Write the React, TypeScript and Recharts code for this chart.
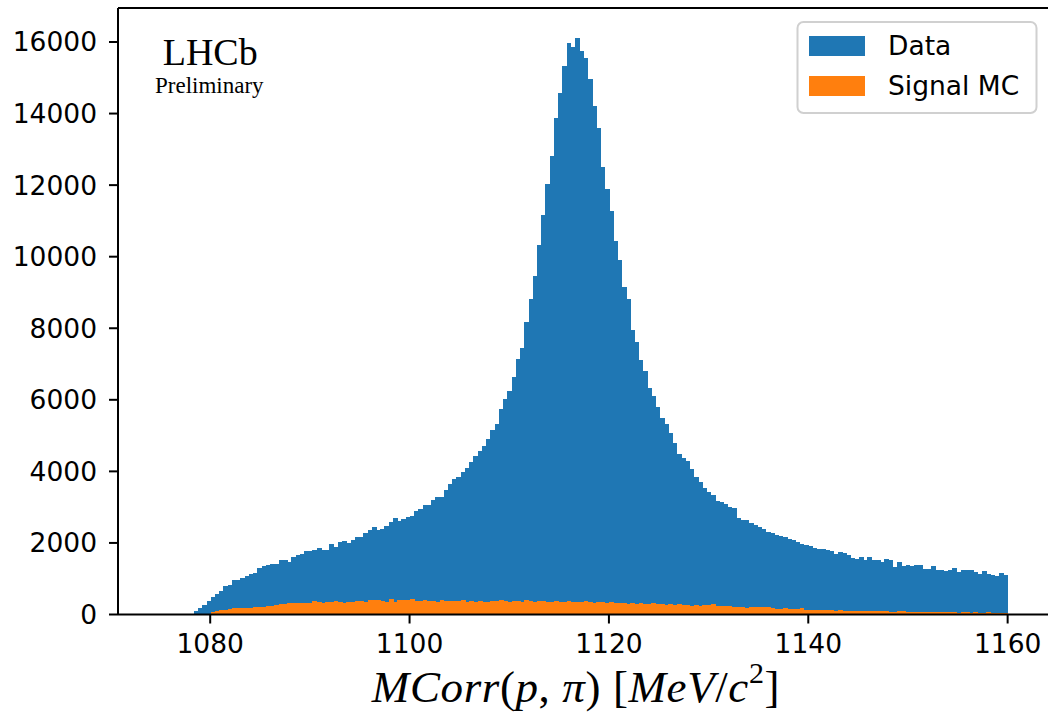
import { BarChart, Bar, XAxis, YAxis } from "recharts";

// histogram binning: 200 bins of 0.425 MeV between 1075 and 1160
const BIN_START = 1075;
const BIN_WIDTH = 0.425;

// candidates per bin, real data
const dataCounts = [
  0, 0, 0, 0, 0, 0, 0, 0, 98, 182,
  266, 377, 489, 573, 657, 797, 825, 964, 964, 1020,
  1076, 1132, 1160, 1300, 1356, 1384, 1412, 1412, 1523, 1523,
  1467, 1607, 1663, 1691, 1775, 1775, 1803, 1859, 1803, 1803,
  1971, 1887, 2026, 2054, 1999, 2082, 2166, 2166, 2278, 2362,
  2446, 2362, 2390, 2474, 2585, 2697, 2613, 2669, 2725, 2753,
  2893, 2949, 3061, 3061, 3200, 3284, 3284, 3480, 3648, 3788,
  3844, 3983, 4095, 4263, 4431, 4570, 4710, 4900, 5150, 5323,
  5735, 6010, 6260, 6646, 7147, 7460, 8180, 8827, 9464, 10330,
  11175, 12020, 12823, 13870, 14570, 15320, 15960, 15850, 16110, 15740,
  15540, 14960, 14200, 13610, 12510, 11895, 11279, 10444, 9912, 9161,
  8827, 7961, 7627, 7126, 6813, 6344, 6093, 5791, 5478, 5332,
  5081, 4779, 4476, 4382, 4299, 4080, 3829, 3694, 3525, 3418,
  3335, 3166, 3144, 3088, 3004, 2977, 2697, 2641, 2641, 2558,
  2502, 2446, 2390, 2306, 2278, 2222, 2194, 2166, 2110, 2082,
  2026, 1971, 1943, 1915, 1859, 1831, 1831, 1803, 1775, 1691,
  1747, 1719, 1663, 1579, 1551, 1607, 1523, 1607, 1523, 1523,
  1467, 1551, 1523, 1328, 1467, 1356, 1384, 1356, 1384, 1384,
  1272, 1272, 1356, 1244, 1244, 1216, 1244, 1300, 1188, 1244,
  1244, 1244, 1188, 1132, 1216, 1132, 1104, 1076, 1160, 1104,
];

// candidates per bin, signal simulation
const signalMC = [
  0, 0, 0, 0, 0, 0, 0, 0, 0, 0,
  0, 0, 70, 98, 126, 126, 154, 182, 182, 182,
  182, 182, 210, 210, 210, 238, 238, 266, 293, 293,
  321, 321, 321, 321, 321, 321, 377, 349, 321, 349,
  349, 377, 349, 321, 349, 349, 377, 377, 349, 405,
  405, 405, 377, 349, 433, 349, 405, 405, 405, 433,
  377, 377, 405, 377, 377, 349, 405, 377, 377, 377,
  377, 405, 349, 377, 349, 377, 349, 349, 377, 377,
  405, 377, 349, 377, 377, 349, 405, 377, 349, 377,
  377, 349, 349, 377, 349, 349, 377, 349, 349, 349,
  377, 349, 321, 349, 349, 321, 349, 321, 321, 321,
  293, 321, 293, 321, 293, 293, 321, 293, 293, 266,
  293, 266, 293, 266, 266, 238, 266, 238, 261, 261,
  293, 238, 238, 238, 238, 210, 210, 210, 182, 210,
  210, 210, 210, 210, 182, 154, 154, 182, 154, 154,
  154, 182, 126, 126, 126, 126, 126, 126, 126, 98,
  126, 98, 98, 98, 98, 98, 98, 98, 98, 98,
  98, 98, 70, 70, 98, 98, 70, 70, 70, 70,
  70, 70, 70, 70, 70, 70, 70, 70, 42, 70,
  70, 42, 70, 42, 42, 70, 42, 42, 42, 42,
];

const xTicks = [1080, 1100, 1120, 1140, 1160];
const yTicks = [0, 2000, 4000, 6000, 8000, 10000, 12000, 14000, 16000];

const rows = dataCounts.map((n, k) => ({
  mass: BIN_START + BIN_WIDTH * (k + 0.5),
  data: n,
  mc: signalMC[k],
}));

const X_DOMAIN = [1070.75, 1164.25];
const CHART_W = 1052;
const Y_AXIS_W = 118;
const MARGIN_R = 2;
// pixel width of one histogram bin on the x scale
const PLOT_W = CHART_W - Y_AXIS_W - MARGIN_R;
const BIN_PX = (BIN_WIDTH * PLOT_W) / (X_DOMAIN[1] - X_DOMAIN[0]);

const tickFont = { fontSize: 26.5, fontFamily: "DejaVu Sans", fill: "#000" };
const spine = { stroke: "#000", strokeWidth: 2 };

// step-histogram bin: full bin width around the bar centre, no seams
const binShape = (fill: string) => (props: any) => {
  const { x, y, width, height } = props;
  if (!height || height <= 0) return <g />;
  const cx = x + width / 2;
  return (
    <rect
      x={cx - BIN_PX / 2 - 0.3}
      y={y}
      width={BIN_PX + 0.6}
      height={height}
      fill={fill}
      shapeRendering="crispEdges"
    />
  );
};

export default function App() {
  return (
    <div
      style={{
        position: "absolute",
        left: 0,
        top: 0,
        width: 1048,
        height: 713,
        overflow: "hidden",
        background: "#fff",
      }}
    >
      <BarChart
        width={CHART_W}
        height={713}
        data={rows}
        margin={{ top: 7, right: MARGIN_R, bottom: 38.5, left: 0 }}
        barCategoryGap={0}
        barGap={0}
      >
        <Bar
          xAxisId="data"
          dataKey="data"
          fill="#1f77b4"
          barSize={4}
          shape={binShape("#1f77b4")}
          isAnimationActive={false}
        />
        <Bar
          xAxisId="mc"
          dataKey="mc"
          fill="#ff7f0e"
          barSize={4}
          shape={binShape("#ff7f0e")}
          isAnimationActive={false}
        />
        <XAxis
          xAxisId="data"
          dataKey="mass"
          type="number"
          domain={X_DOMAIN}
          ticks={xTicks}
          allowDataOverflow
          tick={tickFont}
          tickSize={9}
          tickMargin={11}
          axisLine={spine}
          tickLine={spine}
          height={60}
        />
        {/* top spine */}
        <XAxis
          xAxisId="mc"
          dataKey="mass"
          type="number"
          domain={X_DOMAIN}
          allowDataOverflow
          orientation="top"
          tick={false}
          tickLine={false}
          axisLine={spine}
          height={1}
        />
        <YAxis
          domain={[0, 16950]}
          ticks={yTicks}
          allowDataOverflow
          width={Y_AXIS_W}
          tick={tickFont}
          tickSize={9}
          tickMargin={12}
          axisLine={spine}
          tickLine={spine}
        />
      </BarChart>

      <svg
        width={1048}
        height={713}
        style={{ position: "absolute", left: 0, top: 0, pointerEvents: "none" }}
      >
        <text x={162.7} y={65} fontFamily="Liberation Serif" fontSize={38}>
          LHCb
        </text>
        <text x={155} y={93} fontFamily="Liberation Serif" fontSize={23}>
          Preliminary
        </text>

        {/* legend */}
        <rect
          x={797.5}
          y={22}
          width={239}
          height={91}
          rx={6}
          fill="#fff"
          stroke="#d0d0d0"
          strokeWidth={2}
        />
        <rect x={809} y={36} width={56} height={20} fill="#1f77b4" />
        <rect x={809} y={76} width={56} height={20} fill="#ff7f0e" />
        <text x={888} y={55} fontFamily="DejaVu Sans" fontSize={26.5}>
          Data
        </text>
        <text x={888} y={95} fontFamily="DejaVu Sans" fontSize={26.5}>
          Signal MC
        </text>

        {/* x-axis title */}
        <text
          x={576}
          y={702}
          textAnchor="middle"
          fontFamily="Liberation Serif"
          fontSize={45}
          letterSpacing={0.6}
        >
          <tspan fontStyle="italic">MCorr</tspan>
          <tspan>(</tspan>
          <tspan fontStyle="italic">p</tspan>
          <tspan>, </tspan>
          <tspan fontStyle="italic">π</tspan>
          <tspan>)  [</tspan>
          <tspan fontStyle="italic">MeV</tspan>
          <tspan>/</tspan>
          <tspan fontStyle="italic">c</tspan>
          <tspan dy={-19} fontSize={30}>
            2
          </tspan>
          <tspan dy={19}>]</tspan>
        </text>
      </svg>
    </div>
  );
}
